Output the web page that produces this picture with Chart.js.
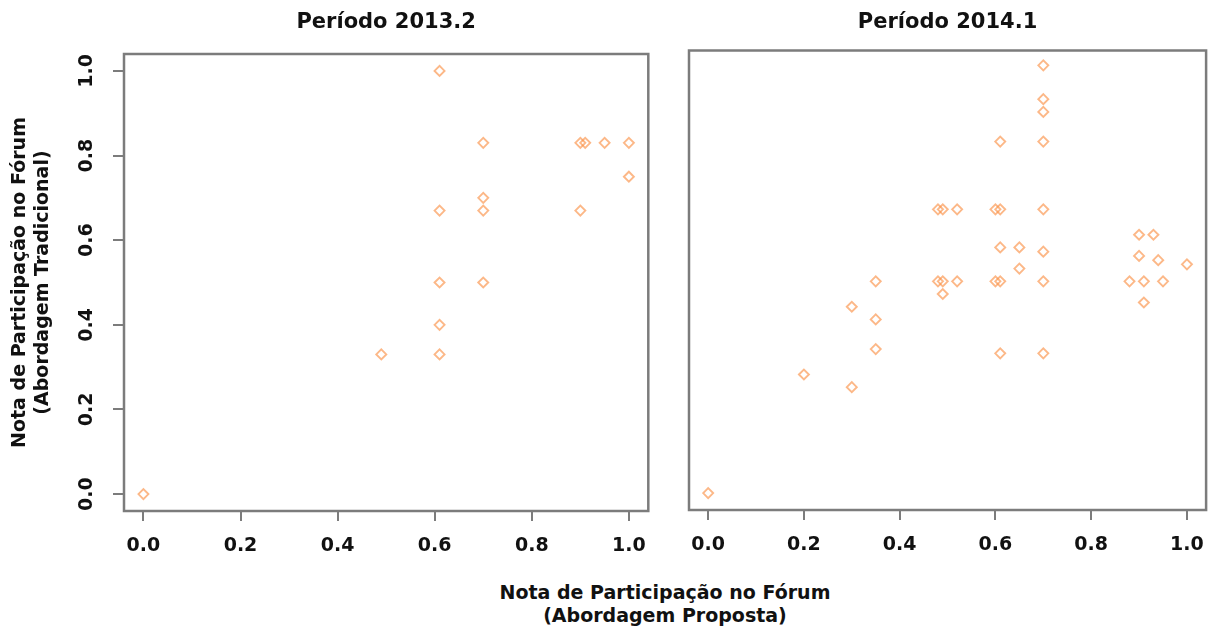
<!DOCTYPE html>
<html>
<head>
<meta charset="utf-8">
<script src="https://cdn.jsdelivr.net/npm/chart.js@4.4.1/dist/chart.umd.min.js"></script>
<style>
    body { margin: 0; background: #fff; width: 1213px; height: 627px; overflow: hidden; position: relative; }
    canvas { position: absolute; top: 0; }
    #left { left: 0; }
    #right { left: 680px; }
    #xTitle {
        position: absolute; left: 415px; width: 500px; top: 581px;
        text-align: center; color: #111;
        font: bold 19px/23px "DejaVu Sans", sans-serif;
    }
</style>
</head>
<body>
<canvas id="left" width="680" height="570"></canvas>
<canvas id="right" width="533" height="570"></canvas>
<div id="xTitle">Nota de Participação no Fórum<br>(Abordagem Proposta)</div>
<script>
const xTicks = [0, 0.2, 0.4, 0.6, 0.8, 1.0];
const yTicks = [0, 0.2, 0.4, 0.6, 0.8, 1.0];

// Período 2013.2
const x2013 = [0, 0.49, 0.61, 0.61, 0.61, 0.61, 0.61, 0.70, 0.70, 0.70, 0.70, 0.90, 0.91, 0.95, 1.00, 1.00, 0.90];
const y2013 = [0, 0.33, 1.00, 0.67, 0.50, 0.40, 0.33, 0.83, 0.70, 0.67, 0.50, 0.83, 0.83, 0.83, 0.83, 0.75, 0.67];

// Período 2014.1
const x2014 = [0, 0.20, 0.30, 0.30, 0.35, 0.35, 0.35, 0.48, 0.49, 0.52, 0.48, 0.49, 0.52, 0.49,
    0.60, 0.61, 0.60, 0.61, 0.61, 0.61, 0.65, 0.65, 0.61, 0.70, 0.70, 0.70, 0.70, 0.70, 0.70, 0.70, 0.70,
    0.88, 0.91, 0.95, 0.90, 0.93, 0.90, 0.94, 1.00, 0.91];
const y2014 = [0, 0.28, 0.44, 0.25, 0.50, 0.41, 0.34, 0.67, 0.67, 0.67, 0.50, 0.50, 0.50, 0.47,
    0.67, 0.67, 0.50, 0.50, 0.83, 0.58, 0.58, 0.53, 0.33, 1.01, 0.93, 0.90, 0.83, 0.67, 0.57, 0.50, 0.33,
    0.50, 0.50, 0.50, 0.61, 0.61, 0.56, 0.55, 0.54, 0.45];

const ink = '#111';
const edge = '#7c7c7c';
const font = { family: '"DejaVu Sans", sans-serif', weight: 'bold', size: 19 };

// box round the plot area
const frame = {
    id: 'frame',
    afterDatasetsDraw(chart) {
        const { ctx, chartArea: a } = chart;
        ctx.save();
        ctx.strokeStyle = edge;
        ctx.lineWidth = 2.5;
        ctx.strokeRect(a.left, a.top, a.right - a.left, a.bottom - a.top);
        ctx.restore();
    }
};

function createChart(id, title, xs, ys, yAxis, layout, titlePad) {
    const el = document.getElementById(id);

    return new Chart(el, {
        type: 'scatter',
        data: {
            datasets: [{
                data: xs.map((x, i) => ({ x, y: ys[i] })),
                pointStyle: 'rectRot',
                pointRadius: 5,
                borderWidth: 1.9,
                borderColor: 'rgba(251,146,72,0.65)',
                backgroundColor: 'rgba(0,0,0,0)'
            }]
        },
        options: {
            responsive: false,
            animation: false,
            layout: { padding: layout },
            plugins: {
                legend: { display: false },
                tooltip: { enabled: false },
                title: {
                    display: true,
                    fullSize: false,
                    text: title,
                    color: ink,
                    font: { ...font, size: 21 },
                    padding: titlePad
                }
            },
            scales: {
                x: {
                    type: 'linear',
                    min: -0.04,
                    max: 1.04,
                    afterBuildTicks: s => { s.ticks = xTicks.map(v => ({ value: v })); },
                    afterFit: s => { s.height = 50; s.paddingLeft = 0; s.paddingRight = 0; },
                    grid: { drawOnChartArea: false, tickLength: 10, tickColor: edge, lineWidth: 2 },
                    border: { display: false },
                    ticks: {
                        font, color: ink, padding: 14,
                        autoSkip: false, minRotation: 0, maxRotation: 0,
                        callback: v => v.toFixed(1)
                    }
                },
                y: yAxis
            }
        },
        plugins: [frame]
    });
}

createChart('left', 'Período 2013.2', x2013, y2013, {
    type: 'linear',
    min: -0.04,
    max: 1.04,
    afterBuildTicks: s => { s.ticks = yTicks.map(v => ({ value: v })); },
    afterFit: s => { s.width = 124; },
    grid: { drawOnChartArea: false, tickLength: 11, tickColor: edge, lineWidth: 2 },
    border: { display: false },
    ticks: {
        font, color: ink, padding: 9,
        minRotation: 90, maxRotation: 90, crossAlign: 'center',
        callback: v => v.toFixed(1)
    },
    title: {
        display: true,
        text: ['Nota de Participação no Fórum', '(Abordagem Tradicional)'],
        color: ink,
        font,
        padding: { top: 9, bottom: 0 }
    }
}, { left: 0, right: 31.7, top: 0, bottom: 9 }, { top: 10, bottom: 18.8 });

createChart('right', 'Período 2014.1', x2014, y2014, {
    type: 'linear',
    display: false,
    min: -0.04,
    max: 1.045
}, { left: 9, right: 1.7, top: 0, bottom: 10 }, { top: 10, bottom: 15.3 });
</script>
</body>
</html>
